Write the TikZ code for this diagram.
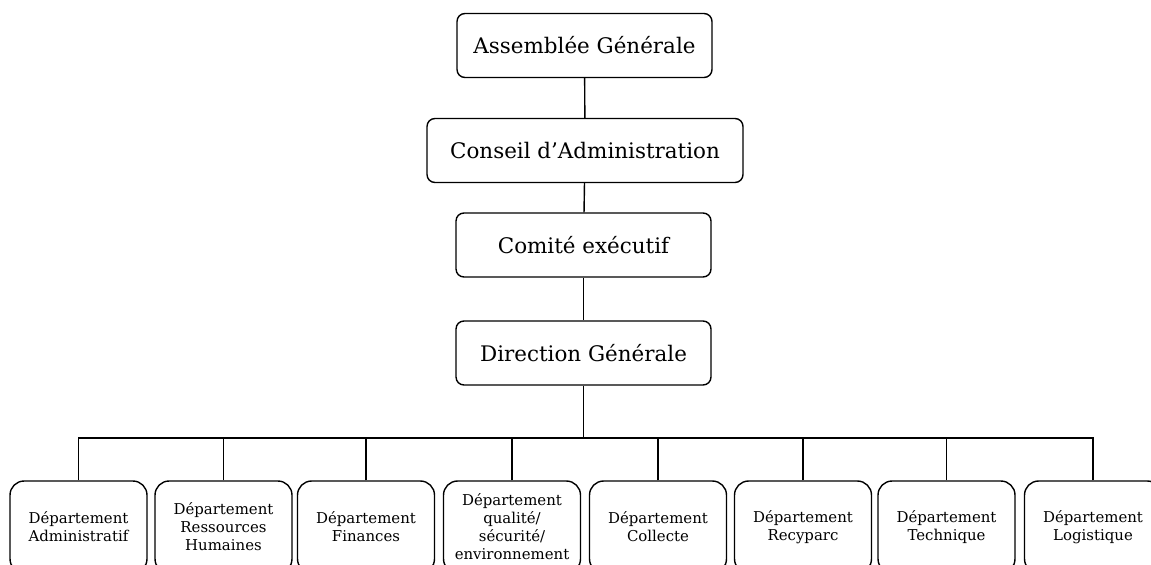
\documentclass[tikz,border=0pt]{standalone}
\usepackage{fontspec}
\setmainfont{DejaVu Serif}
\usepackage{xcolor}
\usepackage{tikz}
\usetikzlibrary{positioning,calc}

\begin{document}
\begin{tikzpicture}[
  x=0.02cm,y=-0.02cm,
  level/.style={draw,rounded corners=4.5pt,line width=0.8pt,minimum width=5.1cm,minimum height=1.28cm,font=\fontsize{12.2}{14}\selectfont},
  dept/.style={draw,rounded corners=8pt,line width=0.8pt,minimum width=2.74cm,minimum height=1.84cm,align=center,font=\fontsize{8.5}{10.2}\selectfont},
  link/.style={line width=0.8pt}
]
\useasboundingbox (0,0) rectangle (1151,564);
% levels
\node[level] (AG) at (584.5,45.5) {Assemblée Générale};
\node[level,minimum width=6.32cm] (CA) at (585,150.5) {Conseil d’Administration};
\node[level] (CE) at (583.5,245) {Comité exécutif};
\node[level] (DG) at (583.5,353) {Direction Générale};
% departments
\node[dept] (D1) at (78.5,527) {Département\\Administratif};
\node[dept] (D2) at (223.5,527) {Département\\Ressources\\Humaines};
\node[dept] (D3) at (366,527) {Département\\Finances};
\node[dept] (D4) at (512,527) {Département\\qualité/\\sécurité/\\environnement};
\node[dept] (D5) at (658,527) {Département\\Collecte};
\node[dept] (D6) at (803,527) {Département\\Recyparc};
\node[dept] (D7) at (946.5,527) {Département\\Technique};
\node[dept] (D8) at (1093,527) {Département\\Logistique};
\coordinate (bus) at (583.5,438);
\draw[link] (AG) -- (CA);
\draw[link] (CA) -- (CE);
\draw[link] (CE) -- (DG);
\draw[link] (DG) -- (bus);
\draw[link] (D1.north) |- (bus);
\draw[link] (D2.north) |- (bus);
\draw[link] (D3.north) |- (bus);
\draw[link] (D4.north) |- (bus);
\draw[link] (D5.north) |- (bus);
\draw[link] (D6.north) |- (bus);
\draw[link] (D7.north) |- (bus);
\draw[link] (D8.north) |- (bus);
\end{tikzpicture}
\end{document}
